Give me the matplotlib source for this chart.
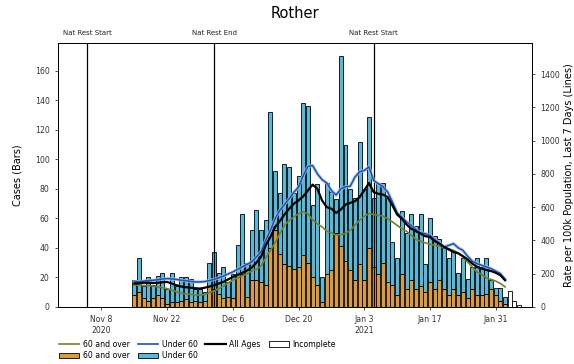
"""Rother cases by age band (bars) with 7-day rates per 100k (lines)."""

import numpy as np
import pandas as pd
import matplotlib
matplotlib.use("Agg")
import matplotlib.pyplot as plt
from matplotlib.patches import Patch
from matplotlib.lines import Line2D

# ---- data --------------------------------------------------------------
first_day = "2020-11-15"

# daily cases, stacked bars
cases_over60 = [8, 10, 6, 4, 6, 8, 6, 2, 3, 3, 4, 5, 3, 4, 3, 4, 14, 12, 9, 6,
                7, 6, 20, 22, 7, 18, 18, 17, 15, 40, 52, 36, 29, 28, 26, 27, 35, 30, 20, 15,
                3, 22, 25, 50, 41, 31, 25, 18, 29, 18, 40, 27, 22, 30, 17, 15, 8, 22, 12, 18,
                12, 14, 10, 17, 12, 18, 12, 8, 12, 8, 10, 6, 12, 8, 8, 9, 12, 8, 4, 2]
cases_under60 = [10, 23, 8, 16, 9, 13, 17, 10, 20, 11, 16, 15, 16, 8, 9, 6, 16, 25, 14, 21,
                 10, 16, 22, 41, 23, 34, 48, 35, 44, 92, 40, 41, 68, 67, 51, 62, 103, 106, 49, 68,
                 17, 62, 53, 23, 129, 79, 55, 56, 83, 62, 89, 47, 62, 54, 57, 29, 25, 43, 38, 45,
                 43, 49, 19, 43, 36, 28, 28, 25, 26, 15, 23, 13, 15, 25, 19, 24, 6, 5, 9, 5]
# last days, no age split yet
cases_incomplete = [11, 4, 1]

# rate per 100k population, last 7 days
rate_over60 = [130, 130, 128, 128, 125, 120, 115, 110, 100, 90, 82, 78, 75, 72, 70, 75, 85, 95, 110, 125,
               145, 160, 175, 185, 200, 215, 225, 245, 295, 340, 385, 440, 490, 520, 540, 560, 571, 560, 523, 500,
               481, 455, 445, 431, 435, 441, 460, 491, 521, 545, 561, 555, 551, 545, 530, 511, 490, 470, 455, 430,
               405, 395, 385, 375, 370, 365, 360, 350, 340, 325, 300, 270, 240, 210, 195, 175, 165, 155, 140, 120]
rate_under60 = [150, 152, 155, 158, 160, 163, 168, 170, 168, 165, 160, 157, 153, 150, 150, 152, 158, 165, 175, 185,
                198, 210, 225, 240, 255, 270, 300, 330, 400, 460, 530, 580, 615, 650, 690, 720, 790, 845, 850, 800,
                765, 745, 700, 672, 710, 722, 725, 780, 812, 820, 842, 760, 740, 722, 690, 630, 565, 540, 511, 490,
                465, 445, 440, 430, 405, 385, 360, 370, 380, 355, 340, 305, 275, 260, 250, 240, 230, 215, 200, 165]
rate_all = [140, 142, 145, 145, 143, 145, 148, 150, 140, 130, 122, 118, 115, 112, 110, 115, 122, 130, 140, 150,
            165, 180, 192, 205, 218, 235, 265, 300, 370, 420, 480, 515, 555, 590, 620, 640, 665, 700, 735, 710,
            640, 600, 590, 565, 585, 615, 625, 635, 660, 700, 745, 690, 680, 675, 660, 610, 555, 530, 495, 470,
            455, 440, 425, 420, 395, 380, 360, 345, 330, 322, 305, 285, 260, 240, 230, 222, 215, 205, 190, 160]

restriction_dates = ["2020-11-05", "2020-12-02", "2021-01-05"]
restriction_labels = ["Nat Rest Start", "Nat Rest End", "Nat Rest Start"]

tick_dates = ["2020-11-08", "2020-11-22", "2020-12-06", "2020-12-20",
              "2021-01-03", "2021-01-17", "2021-01-31"]
tick_labels = ["Nov 8\n2020", "Nov 22", "Dec 6", "Dec 20", "Jan 3\n2021", "Jan 17", "Jan 31"]

# ---- style --------------------------------------------------------------
c_over = "#dc9a3e"
c_under = "#58b8d8"
c_line_over = "#76802a"
c_line_under = "#1f50b4"
c_line_all = "black"

days = pd.date_range(first_day, periods=len(cases_over60), freq="D")
inc_days = pd.date_range(days[-1] + pd.Timedelta(days=1), periods=len(cases_incomplete), freq="D")
line_days = days[:len(rate_all)]

fig = plt.figure(figsize=(5.74, 3.64), dpi=100)
ax = fig.add_axes([0.101, 0.157, 0.826, 0.725])

over = np.array(cases_over60)
under = np.array(cases_under60)
bw = 0.85
ax.bar(days, over, width=bw, color=c_over, edgecolor="black", linewidth=0.6)
ax.bar(days, under, bottom=over, width=bw, color=c_under, edgecolor="black", linewidth=0.6)
ax.bar(inc_days, cases_incomplete, width=bw, color="white", edgecolor="black", linewidth=0.6)

ax.set_ylim(0, 179)
ax.set_yticks(range(0, 161, 20))
ax.set_xlim(pd.Timestamp("2020-10-29 18:00"), pd.Timestamp("2021-02-07 18:00"))
ax.set_xticks(pd.to_datetime(tick_dates))
ax.set_xticklabels(tick_labels)
ax.tick_params(labelsize=5.6, length=2.5, width=0.6, colors="#333333")
ax.set_ylabel("Cases (Bars)", fontsize=7, labelpad=9)

for d, lab in zip(restriction_dates, restriction_labels):
    ax.axvline(pd.Timestamp(d), color="black", linewidth=0.9, zorder=5)
    ax.text(pd.Timestamp(d), 1.025, lab, transform=ax.get_xaxis_transform(),
            ha="center", va="bottom", fontsize=5, color="#222222")

ax2 = ax.twinx()
ax2.plot(line_days, rate_under60, color="#9cc3ee", linewidth=2.4, alpha=0.8)
ax2.plot(line_days, rate_under60, color=c_line_under, linewidth=1.1)
ax2.plot(line_days, rate_over60, color=c_line_over, linewidth=1.2)
ax2.plot(line_days, rate_all, color=c_line_all, linewidth=1.6)
ax2.set_ylim(0, 1587)
ax2.set_yticks(range(0, 1401, 200))
ax2.tick_params(labelsize=5.6, length=2.5, width=0.6, colors="#333333")
ax2.set_ylabel("Rate per 100k Population, Last 7 Days (Lines)", fontsize=7, labelpad=3)

for a in (ax, ax2):
    for s in a.spines.values():
        s.set_linewidth(0.7)

ax.set_title("Rother", fontsize=10.5, pad=18)

handles = [
    Line2D([], [], color=c_line_over, linewidth=1.2),
    Patch(facecolor=c_over, edgecolor="black", linewidth=0.6),
    Line2D([], [], color=c_line_under, linewidth=1.2),
    Patch(facecolor=c_under, edgecolor="black", linewidth=0.6),
    Line2D([], [], color=c_line_all, linewidth=1.6),
    Patch(facecolor="white", edgecolor="black", linewidth=0.6),
]
labels = ["60 and over", "60 and over", "Under 60", "Under 60", "All Ages", "Incomplete"]
fig.legend(handles, labels, ncol=4, loc="upper left", bbox_to_anchor=(0.097, 0.075),
           fontsize=5.6, frameon=False, handlelength=2.6, columnspacing=1.0,
           handletextpad=0.5, labelspacing=0.3, borderaxespad=0.0)

fig.savefig("out.png", dpi=100)
plt.close(fig)
